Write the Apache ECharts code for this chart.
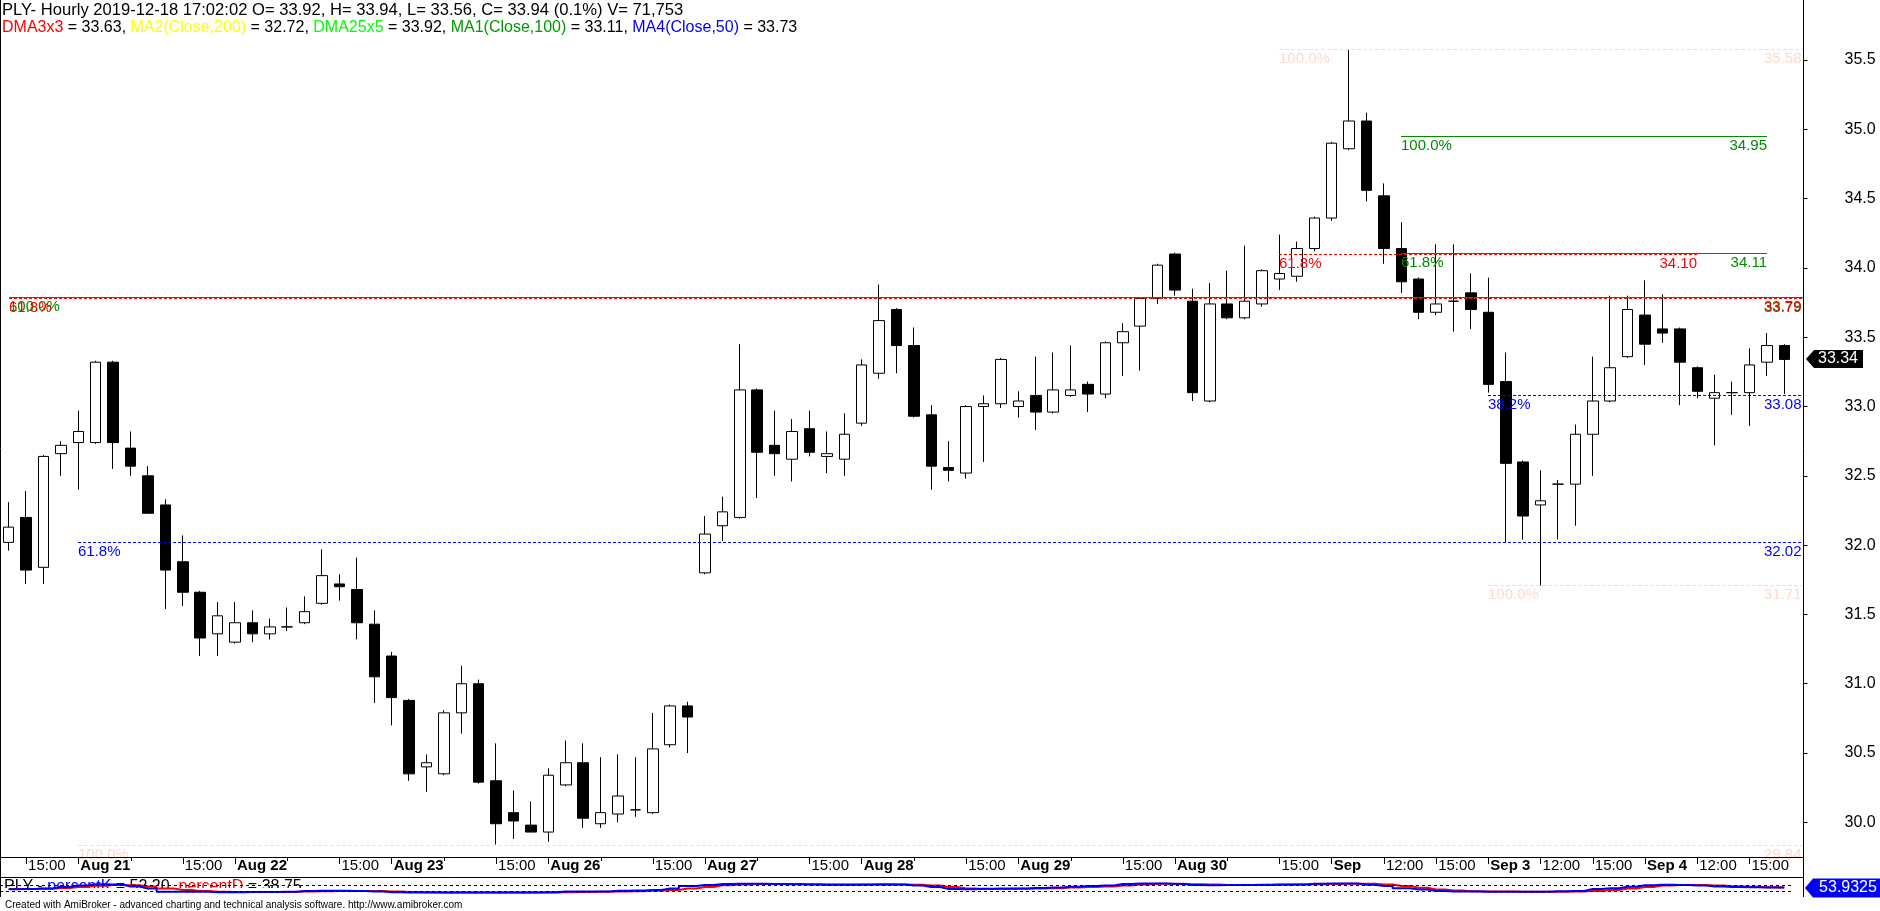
<!DOCTYPE html>
<html><head><meta charset="utf-8">
<script src="https://cdn.jsdelivr.net/npm/echarts@6/dist/echarts.min.js"></script>
<style>html,body{margin:0;padding:0;background:#fff;overflow:hidden}#c{width:1880px;height:911px}</style>
</head><body><div id="c"></div>
<script>
// ---------- data ----------
const dayLabels = ['Aug 20','Aug 21','Aug 22','Aug 23','Aug 26','Aug 27','Aug 28','Aug 29','Aug 30','Sep','Sep 3','Sep 4'];
const hourLabels = ['9:00','10:00','11:00','12:00','13:00','14:00','15:00','16:00','17:00'];
const firstHourIndex = 5; // the first bar is 14:00 on the first day
const noonLabelDays = ['Sep','Sep 3','Sep 4'];

const opens = [32.02,32.20,31.84,32.66,32.74,32.74,33.32,32.70,32.50,32.29,31.88,31.66,31.36,31.30,31.44,31.36,31.41,31.44,31.58,31.72,
31.68,31.43,31.20,30.88,30.40,30.35,30.79,31.00,30.30,30.07,29.98,29.93,30.27,30.43,29.99,30.06,30.09,30.07,30.56,30.84,
31.80,32.14,32.20,33.12,32.72,32.62,32.84,32.64,32.62,32.88,33.24,33.70,33.44,32.94,32.56,32.52,33.00,33.02,33.00,33.08,
32.96,33.08,33.16,33.09,33.46,33.58,33.78,34.10,33.76,33.04,33.74,33.64,33.74,33.92,33.94,34.14,34.36,34.86,35.06,34.52,
34.14,33.92,33.68,33.76,33.82,33.68,33.18,32.60,32.29,32.44,32.44,32.80,33.04,33.36,33.66,33.56,33.56,33.28,33.06,33.10,
33.10,33.32,33.44];
const highs = [32.31,32.39,32.65,32.75,32.97,33.33,33.33,32.82,32.57,32.33,32.07,31.67,31.59,31.59,31.53,31.47,31.55,31.63,31.97,31.79,
31.91,31.53,31.23,30.89,30.49,30.81,31.13,31.03,30.57,30.23,30.15,30.39,30.59,30.57,30.47,30.49,30.47,30.79,30.85,30.87,
32.21,32.35,33.45,33.13,32.97,32.91,32.97,32.82,32.95,33.34,33.88,33.71,33.57,33.01,32.75,33.01,33.08,33.35,33.11,33.36,
33.39,33.44,33.18,33.47,33.60,33.79,34.03,34.11,33.85,33.89,33.98,34.16,33.99,34.24,34.19,34.37,34.91,35.58,35.12,34.61,
34.33,33.93,34.17,34.17,33.96,33.93,33.39,32.61,32.54,32.47,32.87,33.36,33.80,33.80,33.91,33.81,33.57,33.29,33.23,33.18,
33.42,33.53,33.45];
const lows = [31.96,31.72,31.72,32.50,32.40,32.73,32.55,32.50,32.23,31.54,31.56,31.20,31.20,31.29,31.30,31.32,31.38,31.43,31.57,31.60,
31.32,30.86,30.70,30.30,30.22,30.34,30.64,30.28,29.84,29.88,29.93,29.86,30.26,29.96,29.96,30.00,30.04,30.06,30.54,30.50,
31.79,32.03,32.19,32.34,32.50,32.46,32.64,32.52,32.50,32.86,33.20,33.24,32.92,32.40,32.46,32.48,32.60,32.99,32.92,32.83,
32.95,33.07,32.96,33.06,33.22,33.26,33.74,33.80,33.04,33.03,33.63,33.63,33.72,33.84,33.90,34.12,34.34,34.85,34.48,34.03,
33.82,33.63,33.66,33.54,33.56,33.10,32.02,32.04,31.71,32.04,32.14,32.50,33.03,33.35,33.30,33.46,33.01,33.06,32.72,32.94,
32.86,33.22,33.09];
const closes = [32.13,31.82,32.64,32.72,32.82,33.32,32.74,32.57,32.23,31.82,31.66,31.33,31.49,31.44,31.36,31.41,31.41,31.52,31.78,31.70,
31.44,31.05,30.90,30.35,30.43,30.79,31.00,30.29,29.99,30.01,29.93,30.34,30.43,30.03,30.07,30.19,30.09,30.53,30.84,30.76,
32.08,32.24,33.12,32.67,32.66,32.82,32.67,32.66,32.80,33.30,33.62,33.44,32.93,32.57,32.54,33.00,33.02,33.34,33.04,32.96,
33.12,33.12,33.09,33.46,33.54,33.78,34.02,33.84,33.10,33.74,33.64,33.76,33.98,33.96,34.14,34.36,34.90,35.06,34.56,34.14,
33.90,33.68,33.74,33.76,33.70,33.16,32.59,32.21,32.32,32.44,32.80,33.04,33.28,33.70,33.45,33.53,33.32,33.11,33.10,33.10,
33.30,33.44,33.34];

const percentK = [37,40,45,60,75,88,85,65,45,13,13,12,8,8,10,10,12,20,22,22,
20,15,7,5,5,6,6,5,5,5,6,8,14,15,16,22,24,30,45,70,
80,90,92,92,90,88,86,82,82,84,88,86,76,60,40,38,42,44,46,50,
56,62,70,74,90,95,96,90,80,78,79,80,82,84,86,92,95,95,82,70,
48,35,20,15,14,13,12,12,12,18,20,40,48,62,78,82,80,76,64,60,
58,56,54];
const percentD = [40,40,42,50,60,72,80,78,66,45,30,20,12,10,10,10,10,15,18,20,
20,20,15,10,7,6,6,6,6,5,5,6,8,10,12,15,18,22,30,45,
60,78,85,90,90,90,88,86,84,82,82,84,82,75,60,45,40,40,42,45,
48,54,60,66,75,85,92,92,88,84,80,79,80,82,84,88,90,93,92,86,
70,52,35,24,18,15,14,13,12,12,14,20,30,45,60,74,80,80,75,68,
62,58,55];
const oscLevels = [80, 20];

const yTicks = [30.0,30.5,31.0,31.5,32.0,32.5,33.0,33.5,34.0,34.5,35.0,35.5];

// Fibonacci levels drawn on the chart
const fibValues   = [33.792, 33.786, 32.02, 29.84, 35.58, 34.10, 34.95, 34.11, 33.08, 31.71];
const fibPercents = ['100.0%','61.8%','61.8%','100.0%','100.0%','61.8%','100.0%','61.8%','38.2%','100.0%'];
const fibStartBar = [0, 0, 4, 4, 73, 73, 80, 80, 85, 85];
const fibEndBar   = [-1, -1, -1, -1, -1, 97, 101, 101, -1, -1]; // -1: runs to the price axis
const fibKind     = ['green','red','blue','faint','faint','red','green','green','blue','faint'];

const headerLine1 = 'PLY- Hourly 2019-12-18 17:02:02 O= 33.92, H= 33.94, L= 33.56, C= 33.94 (0.1%) V= 71,753';
const maNames  = ['DMA3x3','MA2(Close,200)','DMA25x5','MA1(Close,100)','MA4(Close,50)'];
const maValues = ['33.63','32.72','33.92','33.11','33.73'];
const oscText = {K:'52.20', D:'38.75'};
const oscLast = '53.9325';
const footer = 'Created with AmiBroker - advanced charting and technical analysis software. http://www.amibroker.com';

// ---------- build ----------
const categories = [], catDay = [], catHour = [];
let n = 0;
for (let d = 0; d < dayLabels.length; d++) {
  for (let h = (d === 0 ? firstHourIndex : 0); h < hourLabels.length; h++) {
    if (n >= opens.length) break;
    categories.push(dayLabels[d] + ' ' + hourLabels[h]);
    catDay.push(d); catHour.push(h); n++;
  }
}
const candleData = opens.map((o, i) => [o, closes[i], lows[i], highs[i]]);

function isNoonLabelled(i) { return noonLabelDays.indexOf(dayLabels[catDay[i]]) >= 0; }
function tickAt(i) { const h = catHour[i]; return h === 0 || h === 6 || (h === 3 && isNoonLabelled(i)); }
function labelFor(i) {
  const h = catHour[i], day = dayLabels[catDay[i]];
  if (h === 0) return '{d|' + day + '}';
  if (h === 6) return hourLabels[6];
  if (h === 3 && isNoonLabelled(i)) return hourLabels[3];
  return '';
}

const FONT = '"Liberation Sans", Arial, sans-serif';
const GRID_LEFT = -3.5, GRID_RIGHT = 87;
const AXIS_X = 1803.5;

const chart = echarts.init(document.getElementById('c'), null, {renderer: 'canvas', width: 1880, height: 911});

chart.setOption({
  animation: false,
  backgroundColor: '#ffffff',
  grid: [
    {left: GRID_LEFT, right: GRID_RIGHT, top: 0, bottom: 54},
    {left: GRID_LEFT, right: GRID_RIGHT, top: 877, height: 20}
  ],
  xAxis: [
    {type: 'category', data: categories, gridIndex: 0, boundaryGap: true,
     axisLine: {show: false},
     axisTick: {show: true, alignWithLabel: true, interval: (i) => tickAt(i), length: 7, lineStyle: {color: '#000'}},
     axisLabel: {show: true, interval: (i) => tickAt(i), formatter: (v, i) => labelFor(i), align: 'left',
       margin: 1, padding: [0, 0, 0, 2], color: '#000', fontSize: 15, fontFamily: FONT,
       rich: {d: {fontWeight: 'bold', fontSize: 15, fontFamily: FONT, color: '#000'}}},
     splitLine: {show: false}},
    {type: 'category', data: categories, gridIndex: 1, show: false, boundaryGap: true}
  ],
  yAxis: [
    {type: 'value', position: 'right', offset: 10.5, min: 29.75, max: 35.933,
     axisLine: {show: false},
     axisTick: {show: true, length: 4, customValues: yTicks, lineStyle: {color: '#000'}},
     axisLabel: {customValues: yTicks, formatter: (v) => v.toFixed(1), margin: 41, color: '#000', fontSize: 16, fontFamily: FONT},
     splitLine: {show: false}},
    {type: 'value', gridIndex: 1, min: -40, max: 160, show: false}
  ],
  series: [
    {type: 'candlestick', name: 'PLY', data: candleData, barWidth: 11, xAxisIndex: 0, yAxisIndex: 0,
     itemStyle: {color: '#ffffff', color0: '#000000', borderColor: '#000000', borderColor0: '#000000', borderColorDoji: '#000000', borderWidth: 1},
     emphasis: {disabled: true}},
    {type: 'line', name: 'percentD', data: percentD, xAxisIndex: 1, yAxisIndex: 1, step: 'middle', symbol: 'none',
     lineStyle: {color: '#ff0000', width: 2}, emphasis: {disabled: true}},
    {type: 'line', name: 'percentK', data: percentK, xAxisIndex: 1, yAxisIndex: 1, step: 'middle', symbol: 'none',
     lineStyle: {color: '#0000ff', width: 2}, emphasis: {disabled: true},
     markLine: {silent: true, symbol: 'none', label: {show: false},
       lineStyle: {color: '#000', width: 1, type: [3, 3]},
       data: oscLevels.map(v => ({yAxis: v}))}}
  ]
});

// ---------- overlays computed through the chart's own scales ----------
const styles = {
  green: {color: '#008a00', dash: null},
  red:   {color: '#ff0000', dash: [3, 2]},
  blue:  {color: '#0000ff', dash: [3, 2]},
  faint: {color: '#ffd9cf', dash: [4, 2]}
};
const px = (i, v) => chart.convertToPixel({xAxisIndex: 0, yAxisIndex: 0}, [i, v]);
const g = [];
function txt(text, x, y, fill, size, align, extra) {
  return Object.assign({type: 'text', z: 20, silent: true,
    style: {text: text, x: x, y: y, fill: fill, font: size + 'px ' + FONT,
      align: align, textAlign: align, verticalAlign: 'middle', textVerticalAlign: 'middle'}}, extra || {});
}
function line(x1, y1, x2, y2, stroke, dash, z) {
  return {type: 'line', z: z || 15, silent: true, shape: {x1, y1, x2, y2},
    style: {stroke: stroke, lineWidth: 1, lineDash: dash || null}};
}
// frame
g.push(line(0.5, 0, 0.5, 897, '#000', null, 30));
g.push(line(0, 857.5, AXIS_X, 857.5, '#000', null, 30));
g.push(line(0, 877.5, AXIS_X, 877.5, '#000', null, 30));
g.push(line(AXIS_X, 0, AXIS_X, 897, '#000', null, 30));

// short unlabelled 12:00 ticks
categories.forEach((c, i) => {
  if (catHour[i] === 3 && !isNoonLabelled(i)) {
    const x = Math.round(px(i, 30)[0]) + 0.5;
    g.push(line(x, 858, x, 861, '#000', null, 30));
  }
});

fibValues.forEach((v, k) => {
  const st = styles[fibKind[k]];
  const p0 = px(fibStartBar[k], v);
  const y = Math.round(p0[1]) + 0.5;
  const x0 = Math.round(p0[0]);
  const x1 = fibEndBar[k] < 0 ? AXIS_X - 0.5 : Math.round(px(fibEndBar[k], v)[0]);
  g.push(line(x0, y, x1, y, st.color, st.dash, 15));
  g.push(txt(fibPercents[k], x0, y + 9, st.color, 15, 'left'));
  g.push(txt(v.toFixed(2), fibEndBar[k] < 0 ? AXIS_X - 2 : x1, y + 9, st.color, 15, 'right'));
});

// last price tag
const lastY = Math.round(px(opens.length - 1, closes[closes.length - 1])[1]);
g.push({type: 'polygon', z: 25, silent: true,
  shape: {points: [[1806, lastY], [1814, lastY - 9], [1863, lastY - 9], [1863, lastY + 9], [1814, lastY + 9]]},
  style: {fill: '#000'}});
g.push(txt(closes[closes.length - 1].toFixed(2), 1838, lastY, '#fff', 16, 'center', {z: 26}));

// oscillator tag
const oscY = Math.round(chart.convertToPixel({xAxisIndex: 1, yAxisIndex: 1}, [0, parseFloat(oscLast)])[1]);
g.push({type: 'polygon', z: 25, silent: true,
  shape: {points: [[1805, oscY], [1813, oscY - 9.5], [1880, oscY - 9.5], [1880, oscY + 9.5], [1813, oscY + 9.5]]},
  style: {fill: '#0000ff'}});
g.push(txt(oscLast, 1848, oscY, '#fff', 16, 'center', {z: 26}));

// header
g.push(txt(headerLine1, 2, 10, '#000', 16.6, 'left'));
const maColors = ['r', 'y', 'g', 'dg', 'b'];
let rich2 = '';
maNames.forEach((nm, k) => { rich2 += '{' + maColors[k] + '|' + nm + '}{k| = ' + maValues[k] + (k < maNames.length - 1 ? ', ' : '') + '}'; });
const richStyles = {
  k: {fill: '#000', font: '16px ' + FONT}, r: {fill: '#ff0000', font: '16px ' + FONT},
  y: {fill: '#ffff00', font: '16px ' + FONT}, g: {fill: '#00ff00', font: '16px ' + FONT},
  dg: {fill: '#009900', font: '16px ' + FONT}, b: {fill: '#0000ff', font: '16px ' + FONT}
};
g.push({type: 'text', z: 20, silent: true, style: {text: rich2, x: 2, y: 28, rich: richStyles,
  font: '16px ' + FONT, verticalAlign: 'middle', textVerticalAlign: 'middle'}});

// oscillator title (clipped by the small pane)
g.push({type: 'text', z: 0, silent: true, style: {
  text: '{k|PLY - }{b|percentK}{k| = ' + oscText.K + ', }{r|percentD}{k| = ' + oscText.D + '}',
  x: 4, y: 886.5, rich: richStyles, font: '16px ' + FONT, verticalAlign: 'middle', textVerticalAlign: 'middle'}});
g.push({type: 'rect', z: 1, silent: true, shape: {x: 1, y: 888, width: 320, height: 9}, style: {fill: '#fff'}});

// footer
g.push(txt(footer, 5, 905, '#000', 10, 'left'));

chart.setOption({graphic: g});
</script>
</body></html>
